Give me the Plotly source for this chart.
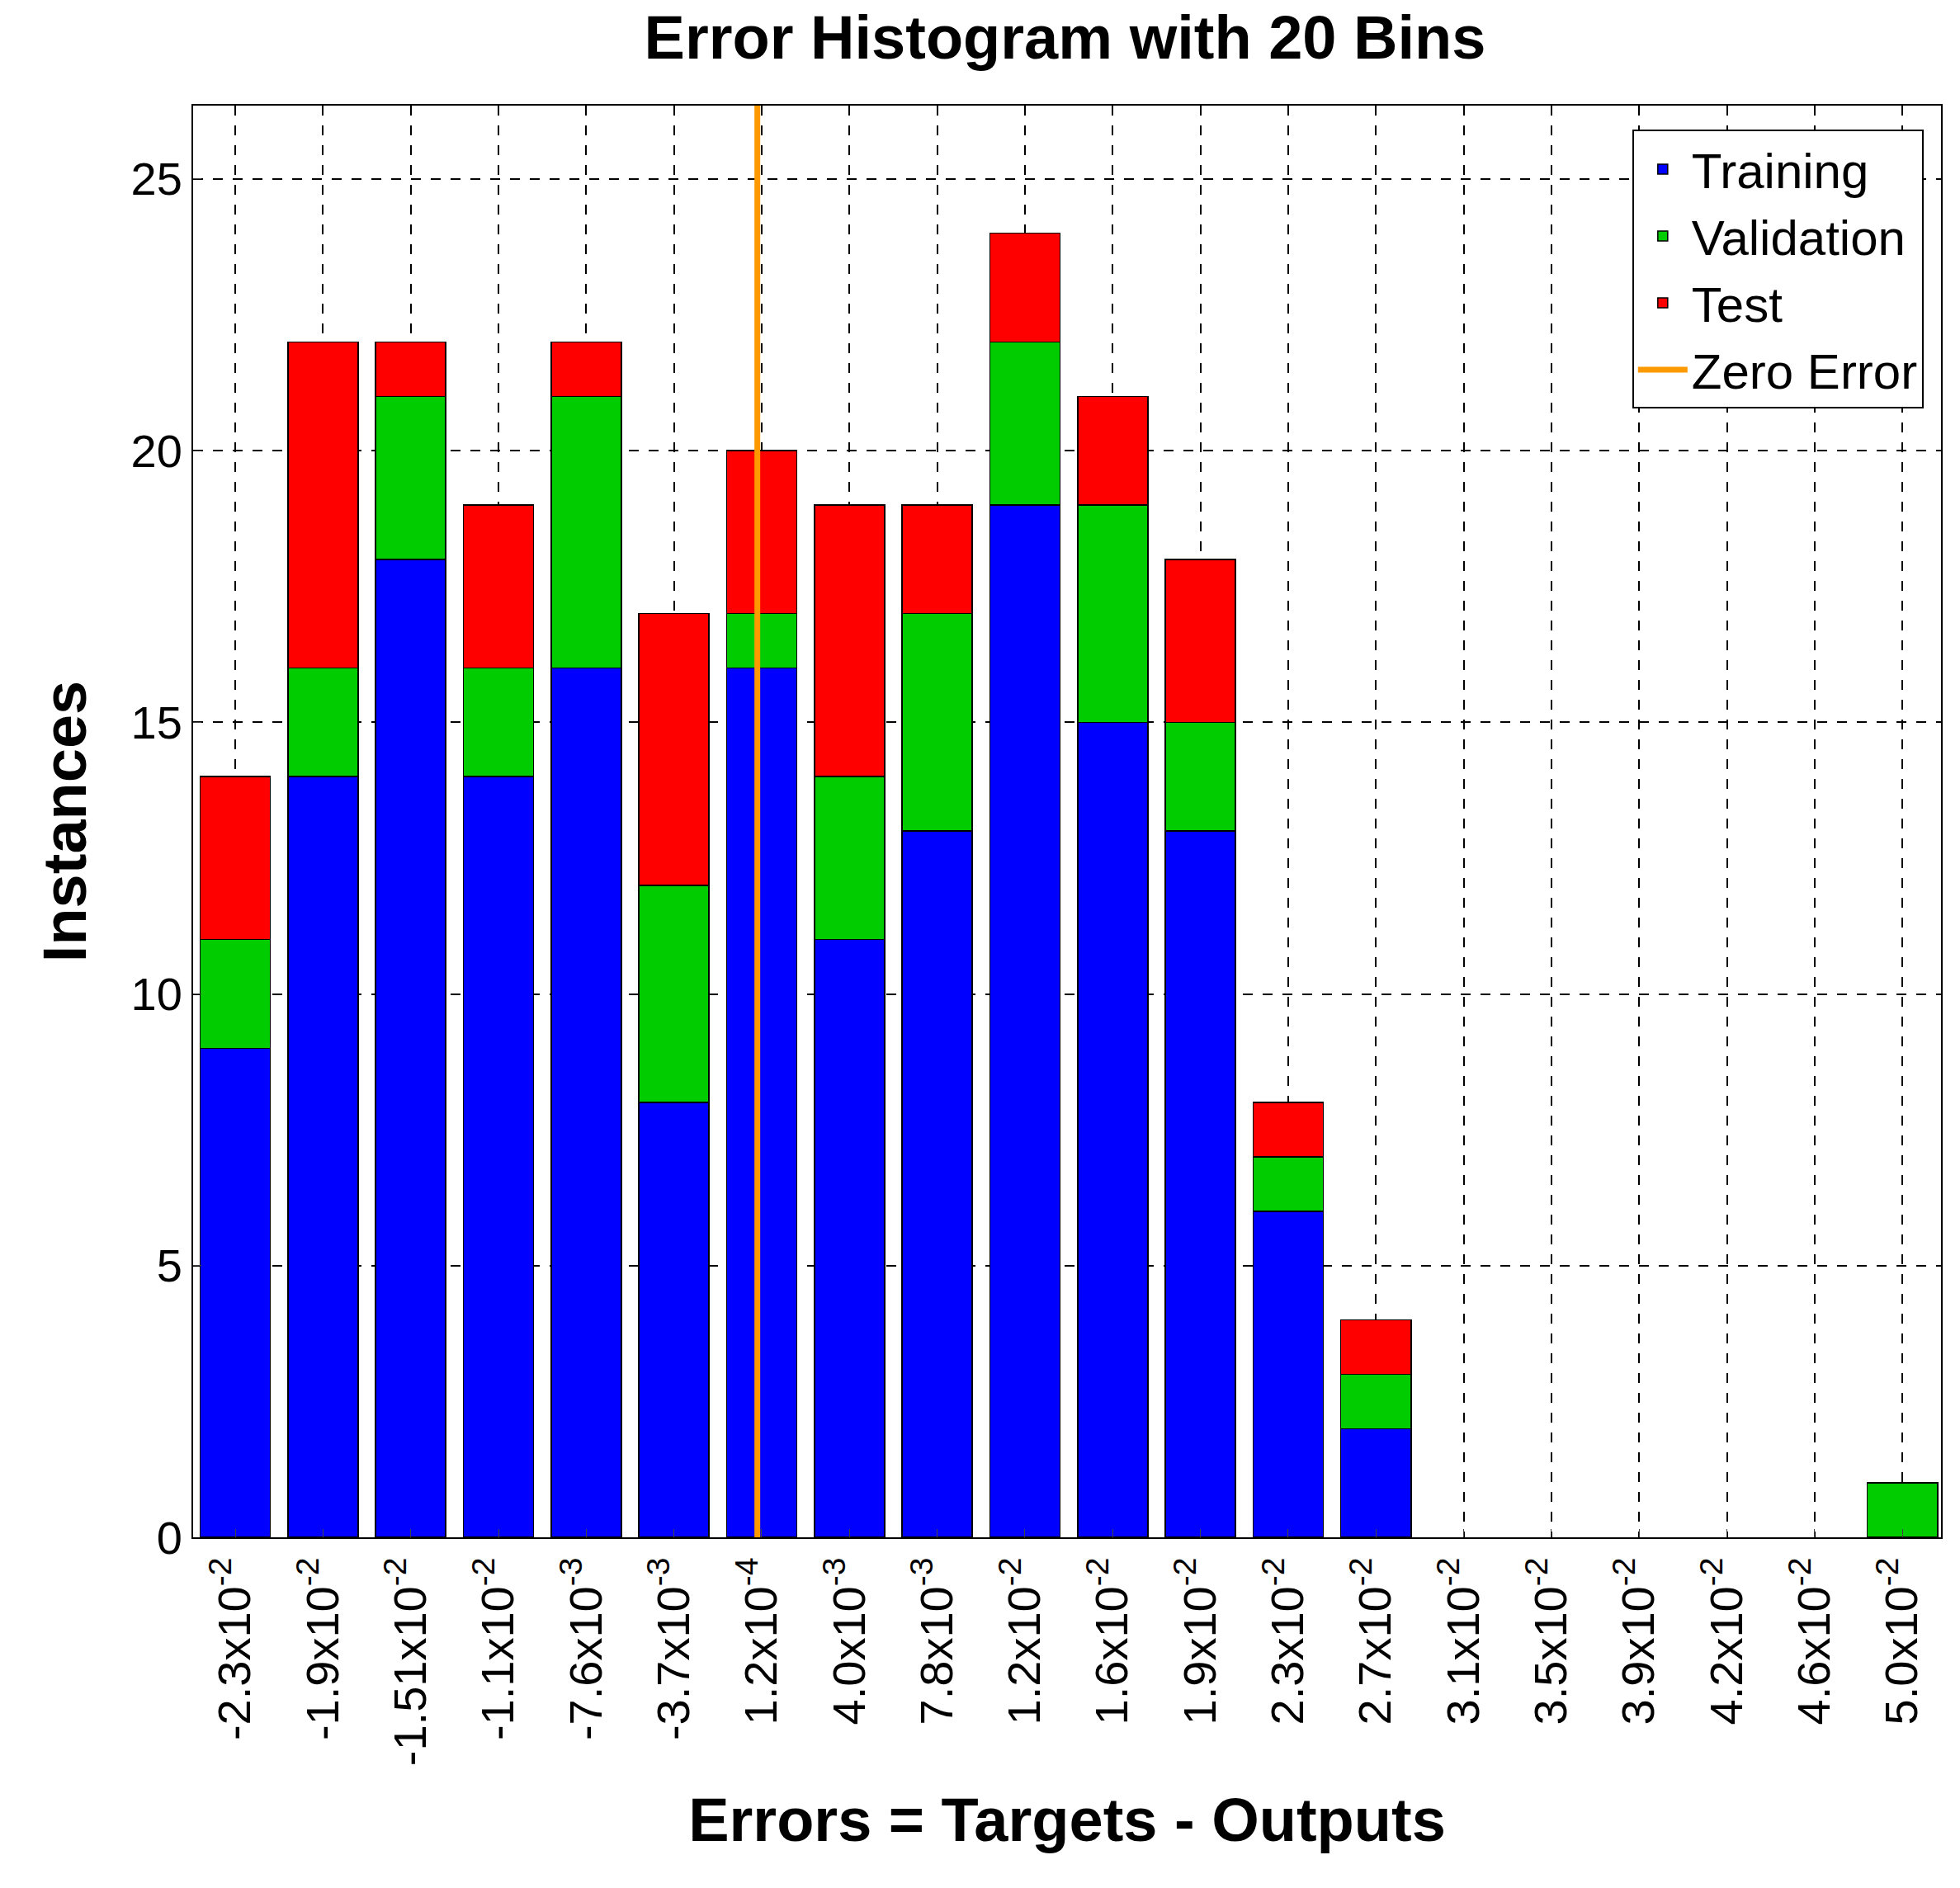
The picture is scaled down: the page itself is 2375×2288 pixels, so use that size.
import plotly.graph_objects as go

bins = list(range(20))
tick_labels = ["-2.3x10<sup>-2</sup>","-1.9x10<sup>-2</sup>","-1.51x10<sup>-2</sup>","-1.1x10<sup>-2</sup>",
               "-7.6x10<sup>-3</sup>","-3.7x10<sup>-3</sup>","1.2x10<sup>-4</sup>","4.0x10<sup>-3</sup>",
               "7.8x10<sup>-3</sup>","1.2x10<sup>-2</sup>","1.6x10<sup>-2</sup>","1.9x10<sup>-2</sup>",
               "2.3x10<sup>-2</sup>","2.7x10<sup>-2</sup>","3.1x10<sup>-2</sup>","3.5x10<sup>-2</sup>",
               "3.9x10<sup>-2</sup>","4.2x10<sup>-2</sup>","4.6x10<sup>-2</sup>","5.0x10<sup>-2</sup>"]
training = [9,14,18,14,16,8,16,11,13,19,15,13,6,2,0,0,0,0,0,0]
validation = [2,2,3,2,5,4,1,3,4,3,4,2,1,1,0,0,0,0,0,1]
test = [3,6,1,3,1,5,3,5,2,2,2,3,1,1,0,0,0,0,0,0]
zero_pos = 5.95

fig = go.Figure()
for name, vals, col in [("Training", training, "#0000ff"), ("Validation", validation, "#00cc00"), ("Test", test, "#ff0000")]:
    fig.add_trace(go.Bar(x=bins, y=[v if v else None for v in vals], name=name,
                         marker=dict(color=col, line=dict(color="black", width=1.5)), width=0.8))
fig.add_trace(go.Scatter(x=[zero_pos, zero_pos], y=[0, 26.4], mode="lines", name="Zero Error",
                         line=dict(color="#ff9900", width=7)))

font = "Liberation Sans, Arial, sans-serif"
fig.update_layout(
    barmode="stack", width=2375, height=2288, plot_bgcolor="white", paper_bgcolor="white",
    margin=dict(l=226, r=31, t=120, b=433),
    font=dict(family=font, color="black", size=56),
    title=dict(text="<b>Error Histogram with 20 Bins</b>", x=0.54, xanchor="center", y=0.995, yanchor="top", font=dict(size=74)),
    legend=dict(x=0.99, xanchor="right", y=0.983, yanchor="top", bordercolor="black", borderwidth=2,
                bgcolor="white", font=dict(size=60), traceorder="normal", itemwidth=60),
    bargap=0.2,
)
fig.update_xaxes(range=[-0.48, 19.44], tickvals=bins, ticktext=tick_labels, tickangle=-90,
                 showgrid=True, gridcolor="black", griddash="12px,12px", gridwidth=1.5,
                 showline=True, linecolor="black", linewidth=2, mirror=True, ticks="inside", ticklen=10,
                 title=dict(text="<b>Errors = Targets - Outputs</b>", font=dict(size=74), standoff=40))
fig.update_yaxes(range=[0, 26.35], tickvals=[0,5,10,15,20,25],
                 showgrid=True, gridcolor="black", griddash="12px,12px", gridwidth=1.5, zeroline=False,
                 showline=True, linecolor="black", linewidth=2, mirror=True, ticks="inside", ticklen=10,
                 title=dict(text="<b>Instances</b>", font=dict(size=74), standoff=30))
fig.write_html("out.html")
